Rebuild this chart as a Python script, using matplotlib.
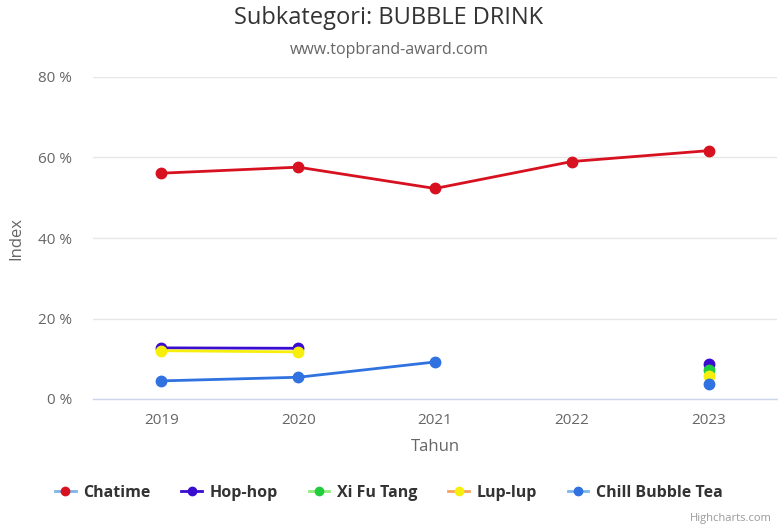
import matplotlib
matplotlib.use("Agg")
import matplotlib.pyplot as plt
from matplotlib.lines import Line2D
import numpy as np

years = ["2019", "2020", "2021", "2022", "2023"]
chatime = [56.1, 57.6, 52.3, 59.0, 61.7]
hophop = [12.7, 12.6, None, None, 8.7]
xifutang = [None, None, None, None, 7.3]
luplup = [12.0, 11.7, None, None, 5.6]
chill = [4.5, 5.4, 9.2, None, 3.8]
yticks = [0, 20, 40, 60, 80]

series = [
    ("Chatime", chatime, "#d7111f", "#7cb5ec"),
    ("Hop-hop", hophop, "#3a0bd0", "#3a0bd0"),
    ("Xi Fu Tang", xifutang, "#22cc3f", "#90ed7d"),
    ("Lup-lup", luplup, "#f7ee0c", "#f7a35c"),
    ("Chill Bubble Tea", chill, "#2f72e0", "#7cb5ec"),
]

plt.rcParams['font.family'] = ['Open Sans', 'DejaVu Sans']
W, H = 778, 529
fig = plt.figure(figsize=(W / 100, H / 100), dpi=100)
fig.patch.set_facecolor("white")
ax = fig.add_axes([93 / W, (H - 399) / H, (777 - 93) / W, (399 - 77) / H])

x = np.arange(len(years))
for name, vals, color, _ in series:
    y = np.array([np.nan if v is None else v for v in vals], dtype=float)
    ax.plot(x, y, color=color, lw=2, marker="o", ms=7.5, mec=color, mfc=color,
            clip_on=False, zorder=3)

ax.set_xlim(-0.5, len(years) - 0.5)
ax.set_ylim(0, 80)
ax.set_yticks(yticks)
ax.set_yticklabels([f"{t} %" for t in yticks])
ax.set_xticks(x)
ax.set_xticklabels(years)
ax.tick_params(axis="both", length=0, labelsize=11, colors="#666666")
ax.tick_params(axis="y", pad=15)
ax.tick_params(axis="x", pad=10)
ax.grid(axis="y", color="#e6e6e6", lw=1)
ax.set_axisbelow(True)
for s in ["top", "right", "left"]:
    ax.spines[s].set_visible(False)
ax.spines["bottom"].set_color("#ccd6eb")
ax.spines["bottom"].set_linewidth(1)

ax.set_xlabel("Tahun", fontsize=12, color="#666666", labelpad=8)
ax.set_ylabel("Index", fontsize=12, color="#666666", labelpad=10)

fig.text(0.5, 1 - 18 / H, "Subkategori: BUBBLE DRINK", ha="center", va="center",
         fontsize=17, color="#333333")
fig.text(0.5, 1 - 50 / H, "www.topbrand-award.com", ha="center", va="center",
         fontsize=11.5, color="#666666")

handles = []
for name, vals, color, lcol in series:
    handles.append(Line2D([0], [0], color=lcol, lw=2, marker="o", ms=6,
                          mfc=color, mec=color))
leg = fig.legend(handles, [s[0] for s in series], loc="center",
                 bbox_to_anchor=(0.5, 1 - 493 / H), ncol=5, frameon=False,
                 handlelength=1.3, handletextpad=0.5, columnspacing=1.9,
                 prop={"size": 11.5, "weight": "bold"})
for t in leg.get_texts():
    t.set_color("#333333")

fig.text(1 - 6 / W, 1 - 518 / H, "Highcharts.com", ha="right", va="center",
         fontsize=8, color="#999999")

fig.savefig("out.png", dpi=100, facecolor="white")
